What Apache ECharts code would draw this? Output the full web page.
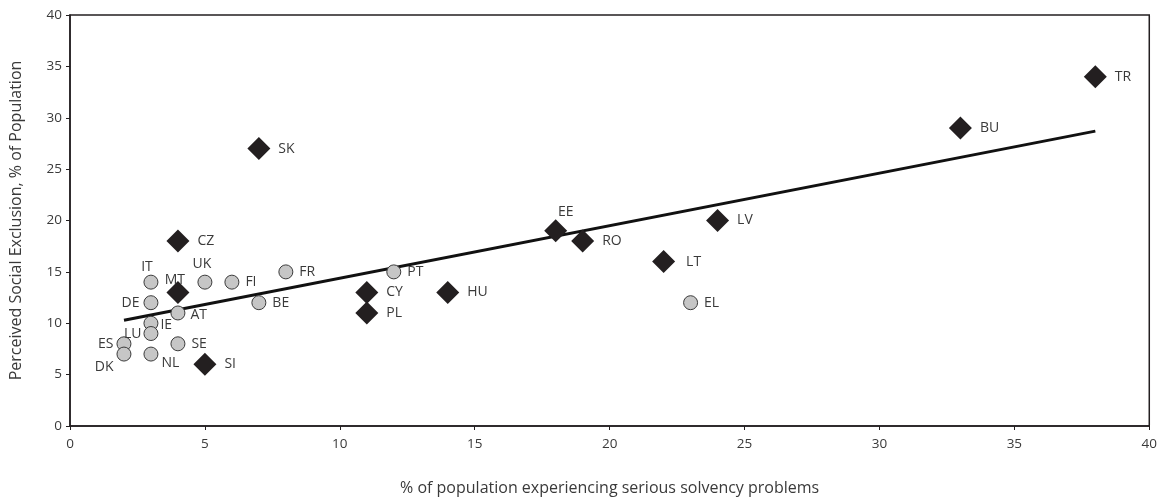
<!DOCTYPE html>
<html>
<head>
<meta charset="utf-8">
<script src="https://cdn.jsdelivr.net/npm/echarts@6/dist/echarts.min.js"></script>
<style>
html,body{margin:0;padding:0;background:#fff;}
#chart{width:1160px;height:501px;}
</style>
</head>
<body>
<div id="chart"></div>
<script>
// ---- Data ----
const oldCodes = ['IT','UK','FI','FR','DE','BE','AT','IE','LU','ES','DK','NL','SE','PT','EL'];
const oldX     = [3, 5, 6, 8, 3, 7, 4, 3, 3, 2, 2, 3, 4, 12, 23];
const oldY     = [14,14,14,15,12,12,11,10, 9, 8, 7, 7, 8, 15, 12];

const newCodes = ['CZ','MT','SI','SK','CY','PL','HU','EE','RO','LT','LV','BU','TR'];
const newX     = [4, 4, 5, 7, 11, 11, 14, 18, 19, 22, 24, 33, 38];
const newY     = [18,13, 6, 27, 13, 11, 13, 19, 18, 16, 20, 29, 34];

const trendX = [2, 38];
const trendY = [10.3, 28.7];

const xTicks = [0,5,10,15,20,25,30,35,40];
const yTicks = [0,5,10,15,20,25,30,35,40];

const xTitle = '% of population experiencing serious solvency problems';
const yTitle = 'Perceived Social Exclusion, % of Population';

// ---- Label placement (style) ----
const labelPlace = {
  IT: {position:'top', distance:1, offset:[-4,0]},
  UK: {position:'top', distance:4, offset:[-3,0]},
  MT: {position:'top', distance:-6, offset:[-3,0]},
  DE: {position:'left', distance:4},
  LU: {position:'left', distance:2},
  ES: {position:'left', distance:3},
  DK: {position:'left', distance:3, offset:[0,13]},
  NL: {position:'right', distance:3, offset:[0,9]},
  IE: {position:'right', distance:2, offset:[0,2]},
  AT: {position:'right', distance:5, offset:[0,2]},
  EE: {position:'top', distance:0, offset:[10,0]},
  LT: {position:'right', distance:11}
};

const textColor = '#3a3a3a';
const font = '"Open Sans", "Noto Sans", sans-serif';

function build(codes, xs, ys, defDist){
  return codes.map((c,i)=>{
    const p = labelPlace[c] || {position:'right', distance:defDist};
    return {name:c, value:[xs[i], ys[i]], label:Object.assign({}, p)};
  });
}

const chart = echarts.init(document.getElementById('chart'), null, {renderer:'canvas'});
chart.setOption({
  animation:false,
  textStyle:{fontFamily:font},
  grid:{left:68, right:7, top:15, bottom:75, show:true, borderColor:'#231f20', borderWidth:1.5, backgroundColor:'transparent'},
  xAxis:{
    type:'value', min:xTicks[0], max:xTicks[xTicks.length-1], interval:5,
    name:xTitle, nameLocation:'middle', nameGap:54,
    nameTextStyle:{color:textColor, fontSize:16, fontFamily:font},
    axisLine:{show:true, onZero:false, lineStyle:{color:'#231f20', width:1.5}},
    axisTick:{show:true, length:4, lineStyle:{color:'#231f20'}},
    axisLabel:{color:textColor, fontSize:13.5, margin:11, fontFamily:font},
    splitLine:{show:false}
  },
  yAxis:{
    type:'value', min:yTicks[0], max:yTicks[yTicks.length-1], interval:5,
    name:yTitle, nameLocation:'middle', nameGap:46, nameRotate:90,
    nameTextStyle:{color:textColor, fontSize:16, fontFamily:font},
    axisLine:{show:true, onZero:false, lineStyle:{color:'#231f20', width:1.5}},
    axisTick:{show:true, length:4, lineStyle:{color:'#231f20'}},
    axisLabel:{color:textColor, fontSize:13.5, margin:8, fontFamily:font},
    splitLine:{show:false}
  },
  series:[
    {
      type:'line', data:trendX.map((x,i)=>[x, trendY[i]]),
      symbol:'none', lineStyle:{color:'#111', width:3}, z:1, silent:true
    },
    {
      type:'scatter', data:build(oldCodes, oldX, oldY, 6),
      symbol:'circle', symbolSize:14,
      itemStyle:{color:'#c6c6c6', borderColor:'#3a3a3a', borderWidth:1, opacity:1},
      label:{show:true, formatter:'{b}', color:textColor, fontSize:14, fontFamily:font},
      z:3
    },
    {
      type:'scatter', data:build(newCodes, newX, newY, 8),
      symbol:'diamond', symbolSize:[23,23],
      itemStyle:{color:'#231f20', opacity:1},
      label:{show:true, formatter:'{b}', color:textColor, fontSize:14, fontFamily:font},
      z:3
    }
  ]
});
</script>
</body>
</html>
